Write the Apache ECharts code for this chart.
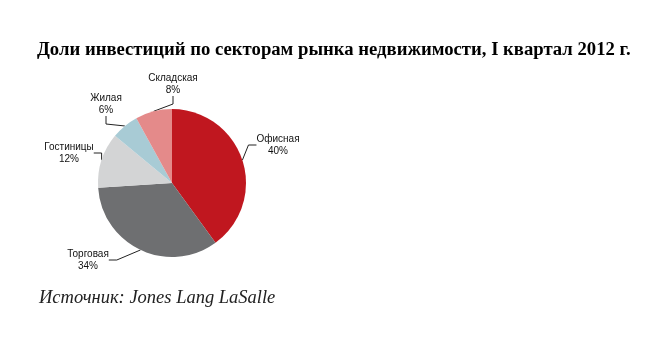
<!DOCTYPE html>
<html><head><meta charset="utf-8">
<script src="https://cdn.jsdelivr.net/npm/echarts@6/dist/echarts.min.js"></script>
<style>html,body{margin:0;padding:0;background:#fff}#c{width:650px;height:345px}</style>
</head><body><div id="c"></div>
<script>
const categories = ['Офисная','Торговая','Гостиницы','Жилая','Складская'];
const values = [40, 34, 12, 6, 8];
const colors = ['#C0171F','#6E6F71','#D3D4D5','#A8CBD5','#E48A8A'];
const titleText = 'Доли инвестиций по секторам рынка недвижимости, I квартал 2012 г.';
const sourceText = 'Источник: Jones Lang LaSalle';
// label centre positions (layout only)
const labelPos = [[278,145],[88,260],[69,153],[106,104],[173,84]];

const chart = echarts.init(document.getElementById('c'), null, {renderer:'canvas'});
chart.setOption({
  animation:false,
  title:[{text:titleText,left:32,top:36,textStyle:{fontFamily:'Liberation Serif',fontWeight:'bold',fontSize:18.7,color:'#000'}},
         {text:sourceText,left:34,top:284,textStyle:{fontFamily:'Liberation Serif',fontStyle:'italic',fontWeight:'normal',fontSize:18.5,color:'#222'}}],
  series:[{
    type:'pie',
    center:[172,183],
    radius:[0,74],
    startAngle:90,
    clockwise:true,
    data:categories.map((n,i)=>({name:n,value:values[i],itemStyle:{color:colors[i]}})),
    label:{show:true,position:'outside',formatter:'{b}\n{c}%',fontFamily:'Arial',fontSize:10,color:'#111',lineHeight:12,align:'center'},
    labelLine:{show:true,length:8,length2:8,lineStyle:{color:'#222',width:1}},
    labelLayout:function(p){
      const pos = labelPos[p.dataIndex];
      return {x:pos[0], y:pos[1], align:'center', verticalAlign:'middle'};
    },
    itemStyle:{borderWidth:0}
  }]
});
</script></body></html>
